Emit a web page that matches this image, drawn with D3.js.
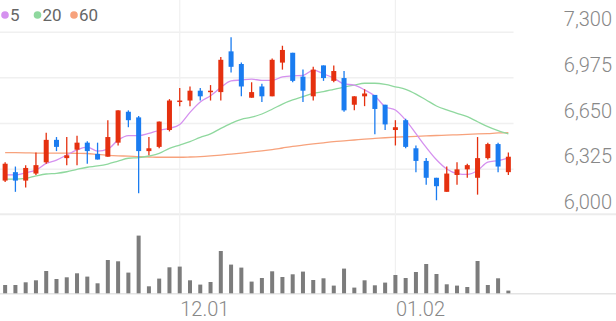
<!DOCTYPE html>
<html><head><meta charset="utf-8">
<script src="https://cdn.jsdelivr.net/npm/d3@7/dist/d3.min.js"></script>
<style>
html,body{margin:0;padding:0;background:#fff;}
svg{display:block;font-family:Roboto,"Noto Sans",sans-serif;}
</style></head>
<body><svg id="c" width="616" height="321"></svg>
<script>
// ---- data ----
const opens  = [6240,6300,6240,6290,6370,6530,6400,6460,6510,6430,6410,6510,6730,6690,6450,6480,6600,6800,6810,6880,6870,6870,7160,7070,6830,6910,6840,7080,7150,6980,6840,7060,6950,6970,6780,6840,6850,6780,6600,6670,6470,6380,6260,6160,6280,6320,6260,6400,6500,6300];
const highs  = [6370,6340,6350,6440,6580,6550,6550,6560,6520,6510,6670,6740,6740,6700,6550,6660,6820,6900,6910,6900,6920,7120,7260,7080,6940,6930,7110,7200,7150,7030,7050,7060,7060,7020,6840,6890,6850,6780,6670,6680,6490,6400,6260,6340,6370,6360,6550,6510,6510,6440];
const lows   = [6230,6160,6190,6280,6360,6450,6350,6350,6360,6390,6410,6490,6620,6150,6420,6470,6590,6770,6770,6810,6810,6810,7010,6840,6830,6800,6840,7030,6940,6800,6810,6950,6940,6730,6740,6770,6570,6600,6490,6470,6300,6210,6100,6160,6210,6260,6140,6390,6300,6280];
const closes = [6360,6240,6330,6350,6530,6480,6420,6510,6450,6390,6550,6740,6670,6450,6470,6660,6810,6810,6880,6840,6880,7100,7050,6910,6870,6840,7100,7170,6950,6880,7030,6970,7020,6740,6840,6860,6750,6640,6620,6480,6380,6260,6200,6290,6320,6350,6400,6500,6340,6410];
const volumes = [83000,83000,110000,130000,223000,143000,160000,200000,167000,100000,333000,320000,207000,577000,70000,147000,260000,267000,130000,87000,113000,423000,287000,257000,117000,153000,220000,163000,190000,217000,133000,150000,77000,247000,57000,130000,80000,107000,183000,153000,213000,293000,193000,90000,77000,63000,323000,83000,150000,27000];
const ma5  = [6280,6280,6296,6315,6362,6386,6422,6458,6478,6450,6464,6528,6560,6560,6576,6598,6612,6640,6726,6800,6844,6902,6950,6956,6962,6954,6954,6978,6986,6988,7026,7000,6970,6928,6920,6886,6842,6766,6742,6670,6574,6476,6388,6322,6290,6284,6312,6372,6382,6400];
const ma20 = [6251,6251,6256,6273,6287,6292,6303,6320,6335,6344,6358,6379,6399,6403,6415,6434,6470,6493,6517,6548,6572,6612,6648,6676,6691,6714,6748,6785,6814,6837,6861,6873,6890,6906,6920,6933,6933,6925,6908,6890,6856,6814,6771,6743,6719,6695,6659,6624,6595,6572];
const ma60 = [6439,6439,6438,6436,6436,6436,6435,6434,6433,6426,6420,6416,6414,6410,6408,6406,6406,6406,6408,6411,6416,6422,6429,6436,6444,6452,6461,6472,6483,6492,6501,6509,6517,6523,6529,6535,6540,6545,6549,6552,6555,6558,6561,6563,6566,6569,6572,6575,6579,6581];
const priceTicks = [6000,6325,6650,6975,7300];
const dateTickIdx = [17,38];
const dateTickLabels = ["12.01","01.02"];
const legendLabels = ["5","20","60"];
const maColors = ["#d591ef","#8fd89e","#f7a27c"];

// ---- layout ----
const svg = d3.select("#c");
const plotW = 513.5;
const idx = d3.range(closes.length);
const x = d3.scalePoint().domain(idx).range([0, plotW]).padding(0.5);
const y = d3.scaleLinear().domain([6000,7300]).range([214.3,31.7]);
const yv = d3.scaleLinear().domain([0,600000]).range([293.3,233.3]);
const UP = "#e5300f", DOWN = "#1a7cf0";

// horizontal grid
const grid = svg.append("g").call(d3.axisLeft(y).tickValues(priceTicks.slice(1)).tickSize(-plotW).tickFormat(""));
grid.select(".domain").remove();
grid.selectAll("line").attr("stroke","#f0f0f0").attr("stroke-width",1.5);
// separator lines
svg.append("line").attr("x1",0).attr("x2",616).attr("y1",y(6000)).attr("y2",y(6000)).attr("stroke","#ececec").attr("stroke-width",2);
svg.append("line").attr("x1",0).attr("x2",616).attr("y1",yv(0)+0.5).attr("y2",yv(0)+0.5).attr("stroke","#e4e4e4").attr("stroke-width",1.5);
// vertical grid
svg.append("g").selectAll("line").data(dateTickIdx).join("line")
  .attr("x1",d=>x(d)).attr("x2",d=>x(d)).attr("y1",0).attr("y2",yv(0))
  .attr("stroke","#f0f0f0").attr("stroke-width",1.2);

// volume bars
svg.append("g").selectAll("rect").data(idx).join("rect")
  .attr("x",i=>x(i)-2).attr("width",4)
  .attr("y",i=>yv(volumes[i])).attr("height",i=>yv(0)-yv(volumes[i]))
  .attr("fill","#7c7c7c");

// moving averages
const line = arr => d3.line().x((d,i)=>x(i)).y(d=>y(d)).curve(d3.curveMonotoneX)(arr);
[ma60, ma20, ma5].forEach((arr,k)=>{
  svg.append("path").attr("d",line(arr)).attr("fill","none")
    .attr("stroke",[maColors[2],maColors[1],maColors[0]][k]).attr("stroke-width",1.3);
});

// candles
const cg = svg.append("g");
idx.forEach(i=>{
  const up = closes[i] >= opens[i];
  const col = up ? UP : DOWN;
  cg.append("line").attr("x1",x(i)).attr("x2",x(i)).attr("y1",y(highs[i])).attr("y2",y(lows[i]))
    .attr("stroke",col).attr("stroke-width",1.3);
  const top = y(Math.max(opens[i],closes[i])), bot = y(Math.min(opens[i],closes[i]));
  cg.append("rect").attr("x",x(i)-2.5).attr("width",5).attr("y",top).attr("height",Math.max(1.5,bot-top)).attr("fill",col);
});

// y axis labels
const ya = svg.append("g").attr("transform","translate(612,0)")
  .call(d3.axisLeft(y).tickValues(priceTicks).tickSize(0).tickPadding(0).tickFormat(d3.format(",")));
ya.select(".domain").remove();
ya.selectAll("text").attr("dy",0).attr("y",-6).attr("fill","#888").style("font-size","20px").style("font-family","Roboto").style("font-weight","300");

// x axis labels
const xa = svg.append("g").attr("transform",`translate(0,${yv(0)})`)
  .call(d3.axisBottom(x).tickValues(dateTickIdx).tickSize(0).tickPadding(0).tickFormat((d,k)=>dateTickLabels[k]));
xa.select(".domain").remove();
xa.selectAll("text").attr("dy",0).attr("y",23).attr("text-anchor","start").attr("fill","#888").style("font-size","20px").style("font-family","Roboto").style("font-weight","300");

// legend
const lg = svg.append("g");
const dotX = [5, 37.5, 74];
legendLabels.forEach((t,k)=>{
  lg.append("circle").attr("cx",dotX[k]).attr("cy",15).attr("r",3.8).attr("fill",maColors[k]);
  lg.append("text").attr("x",dotX[k]+5).attr("y",21).text(t)
    .attr("fill","#666").style("font-size","17px");
});
</script></body></html>
